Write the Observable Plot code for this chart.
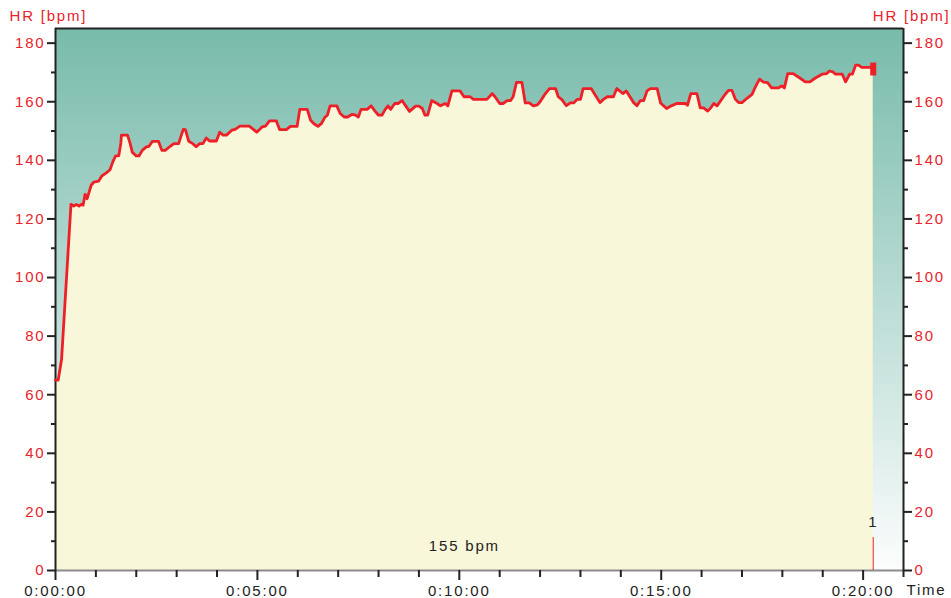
<!DOCTYPE html>
<html>
<head>
<meta charset="utf-8">
<script src="https://cdn.jsdelivr.net/npm/d3@7"></script>
<script src="https://cdn.jsdelivr.net/npm/@observablehq/plot@0.6"></script>
<style>
  html, body { margin: 0; padding: 0; background: #ffffff; }
</style>
</head>
<body>
<div id="chart"></div>
<script>
// Elapsed time in seconds
const timeSec = [0,4,9,23,27,31,35,39,41,44,
  47,53,57,64,69,76,81,85,89,94,
  97,98,107,111,114,120,124,129,135,139,
  144,153,158,163,171,176,183,187,190,193,
  198,204,209,214,219,224,229,239,244,249,
  254,262,267,274,288,299,307,312,318,328,
  333,343,349,359,363,374,379,384,390,395,
  400,404,408,418,423,429,434,441,446,450,
  454,463,469,475,480,485,490,494,498,504,
  509,515,519,526,535,540,545,549,553,559,
  567,572,579,583,589,601,607,616,621,641,
  649,653,660,665,671,676,680,685,693,698,
  704,710,716,720,728,734,743,747,752,759,
  765,770,775,780,784,796,800,809,814,820,
  829,834,843,848,854,859,864,869,874,879,
  884,894,899,908,915,923,936,939,944,953,
  958,963,969,974,978,983,993,1000,1005,1010,
  1015,1020,1027,1035,1040,1046,1052,1058,1064,1074,
  1079,1083,1088,1096,1106,1114,1121,1129,1139,1146,
  1150,1155,1159,1169,1174,1180,1184,1189,1193,1198,
  1213,1215];
// Heart rate in bpm
const hrBpm = [65,65,72,125,124.4,124.9,124.4,125,124.7,128.4,
  126.9,131.5,132.6,132.9,134.7,135.8,136.8,139.4,141.4,141.6,
  145.7,148.6,148.6,145.7,142.8,141.5,141.5,143.4,144.6,144.8,
  146.5,146.5,143.4,143.4,144.9,145.7,145.7,148.6,150.6,150.5,
  146.5,145.7,144.6,145.7,145.7,147.6,146.6,146.6,149.6,148.6,
  148.6,150.3,150.6,151.7,151.7,149.6,151.4,151.7,153.5,153.5,
  150.5,150.5,151.6,151.6,157.4,157.4,153.7,152.5,151.6,152.5,
  154.6,155.4,158.6,158.6,156,154.8,154.8,155.7,155.4,154.8,
  157.4,157.4,158.6,156.7,155.4,155.4,157.4,158.6,157.4,159.4,
  159.4,160.4,159,156.7,158.5,158.5,157.7,155.4,155.4,160.4,
  159.4,158.6,159.4,158.6,163.7,163.7,161.7,161.7,160.8,160.8,
  162.8,161.7,159.4,159.4,160.4,160.4,161.7,166.6,166.6,159.6,
  159.6,158.6,158.9,160,162.8,164.5,164.5,161.7,160.8,158.7,
  159.6,159.6,160.8,160.8,164.5,164.5,163,159.7,160.8,161.7,
  161.7,164.5,162.8,163.7,161.5,159.7,158.6,160.4,160.4,163.7,
  164.5,164.5,159.6,157.7,158.6,159.4,159.4,158.8,162.8,162.8,
  157.9,157.9,156.8,158,159.4,158.6,161.9,163.9,163.9,160.9,
  159.7,159.7,161.1,162.5,165.1,167.7,166.7,166.5,164.7,164.7,
  165.4,164.7,169.6,169.6,168.1,166.8,166.8,168.1,169.4,169.6,
  170.5,170.2,169.4,169.4,166.8,169.4,169.4,172.5,172.5,171.7,
  171.7,171];

const xDomain = [0, 1260];
const yDomain = [0, 185];
const xMajorTicks = [0, 300, 600, 900, 1200];
const xMinorTicks = [60,120,180,240,360,420,480,540,660,720,780,840,960,1020,1080,1140,1260];
const yMajorTicks = [0,20,40,60,80,100,120,140,160,180];
const yMinorTicks = [10,30,50,70,90,110,130,150,170];
const yTitle = "HR [bpm]";
const xTitle = "Time";
const avgLabel = "155 bpm";
const lapTimes = [1215];
const lapLabels = ["1"];

const RED = "#e8232b";
const LINE_RED = "#ee1f27";
const DARK = "#222222";

const data = timeSec.map((t, i) => ({t, hr: hrBpm[i]}));
const last = data[data.length - 1];
const laps = lapTimes.map((t, i) => ({t, label: lapLabels[i]}));
const fmtTime = s => {
  const h = Math.floor(s / 3600), m = Math.floor((s % 3600) / 60), sec = s % 60;
  return `${h}:${String(m).padStart(2, "0")}:${String(sec).padStart(2, "0")}`;
};

const svg = Plot.plot({
  width: 951,
  height: 598,
  marginLeft: 55,
  marginRight: 48,
  marginTop: 28,
  marginBottom: 28,
  x: {domain: xDomain},
  y: {domain: yDomain},
  style: {
    fontFamily: "'Liberation Sans', Arial, sans-serif",
    fontSize: "15px",
    letterSpacing: "1.8px",
    background: "#ffffff",
    overflow: "visible"
  },
  marks: [
    Plot.frame({fill: "url(#hrBg)", stroke: null}),
    Plot.areaY(data, {x: "t", y: "hr", fill: "#f9f7da"}),
    Plot.ruleY([yDomain[0]], {stroke: "#8c8c8c", strokeWidth: 2}),
    Plot.ruleY([yDomain[1]], {stroke: DARK, strokeWidth: 2}),
    Plot.ruleX(xDomain, {stroke: DARK, strokeWidth: 2}),
    Plot.line(data, {x: "t", y: "hr", stroke: LINE_RED, strokeWidth: 2.8, strokeLinejoin: "round"}),
    Plot.ruleX([last], {x: "t", y1: d => d.hr - 2.2, y2: d => d.hr + 2.2, stroke: LINE_RED, strokeWidth: 6}),
    Plot.ruleX(laps, {x: "t", stroke: LINE_RED, strokeWidth: 1, insetTop: 509}),
    Plot.text(laps, {x: "t", text: "label", frameAnchor: "bottom", dy: -44, fill: DARK}),
    Plot.text([avgLabel], {x: last.t / 2, frameAnchor: "bottom", dy: -20, fill: DARK}),
    // y axes
    Plot.axisY({anchor: "left", ticks: yMajorTicks, tickSize: 8, tickPadding: 2, stroke: DARK, strokeWidth: 2, fill: RED, label: null}),
    Plot.axisY({anchor: "left", ticks: yMinorTicks, tickSize: 4, tickFormat: () => "", stroke: DARK, strokeWidth: 2, label: null}),
    Plot.axisY({anchor: "right", ticks: yMajorTicks, tickSize: 8, tickPadding: 3, stroke: DARK, strokeWidth: 2, fill: RED, label: null}),
    Plot.axisY({anchor: "right", ticks: yMinorTicks, tickSize: 4, tickFormat: () => "", stroke: DARK, strokeWidth: 2, label: null}),
    // x axes
    Plot.axisX({ticks: xMajorTicks, tickSize: 10, tickPadding: 5, tickFormat: fmtTime, stroke: DARK, strokeWidth: 2, fill: DARK, label: null}),
    Plot.axisX({ticks: xMinorTicks, tickSize: 7, tickFormat: () => "", stroke: DARK, strokeWidth: 2, label: null}),
    // titles
    Plot.text([yTitle], {frameAnchor: "top-left", textAnchor: "start", lineAnchor: "middle", dx: -46, dy: -12, fill: RED}),
    Plot.text([yTitle], {frameAnchor: "top-right", textAnchor: "end", lineAnchor: "middle", dx: 47, dy: -12, fill: RED}),
    Plot.text([xTitle], {frameAnchor: "bottom-right", textAnchor: "start", lineAnchor: "middle", dx: 3, dy: 20, fill: DARK})
  ]
});

const defs = d3.select(svg).insert("defs", ":first-child");
const grad = defs.append("linearGradient").attr("id", "hrBg")
  .attr("x1", 0).attr("y1", 0).attr("x2", 0).attr("y2", 1);
grad.append("stop").attr("offset", "0%").attr("stop-color", "#78bbab");
grad.append("stop").attr("offset", "100%").attr("stop-color", "#fcfdfd");

document.getElementById("chart").appendChild(svg);
</script>
</body>
</html>
